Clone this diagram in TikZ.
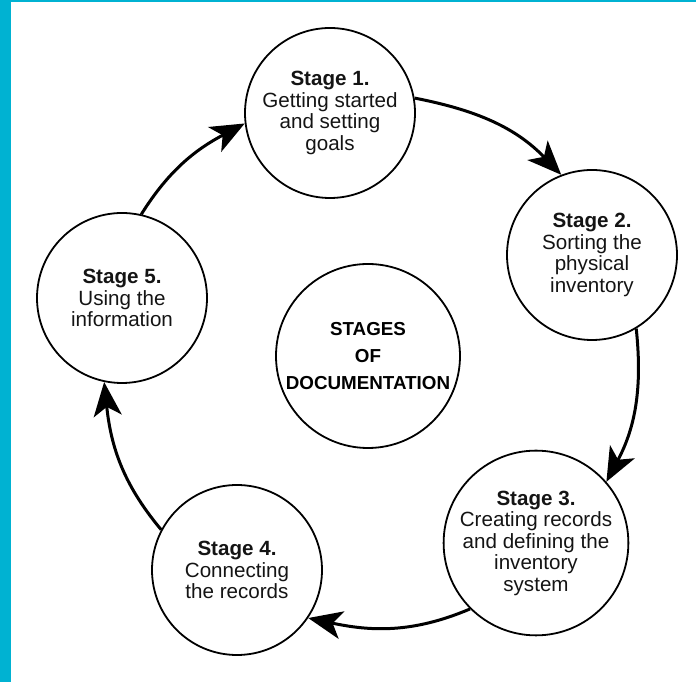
\documentclass[tikz,border=0pt]{standalone}
\usepackage{fontspec}
\setmainfont{Liberation Sans}
\usetikzlibrary{arrows.meta}
\definecolor{framecyan}{RGB}{0,178,210}
\definecolor{inkdark}{RGB}{20,20,20}
\begin{document}
\begin{tikzpicture}[x=1pt,y=1pt,
  stagebox/.style={circle, draw=black, line width=1.8pt, minimum size=170pt,
    inner sep=0pt, align=center, text=inkdark,
    font=\fontsize{20.6}{21.5}\selectfont},
  centerbox/.style={circle, draw=black, line width=1.8pt, minimum size=184pt,
    inner sep=0pt, align=center, text=black,
    font=\fontsize{18.8}{27}\selectfont\bfseries},
  flow/.style={line width=3pt, -{Stealth[length=34pt,width=28pt,inset=9pt]}}]
\useasboundingbox (0,0) rectangle (696,682);
\fill[framecyan] (0,0) rectangle (10.5,682);
\fill[framecyan] (0,680.2) rectangle (696,682);

\node[stagebox] (s1) at (330,569) {\textbf{Stage 1.}\\Getting started\\and setting\\goals};
\node[stagebox] (s2) at (592,427) {\textbf{Stage 2.}\\Sorting the\\physical\\inventory};
\node[stagebox] (s3) at (536,139) {\textbf{Stage 3.}\\Creating records\\and defining the\\inventory\\system};
\node[stagebox] (s4) at (237,112) {\textbf{Stage 4.}\\Connecting\\the records};
\node[stagebox] (s5) at (122,384) {\textbf{Stage 5.}\\Using the\\information};
\node[centerbox] (c) at (368,326) {STAGES\\OF\\DOCUMENTATION};

\draw[flow] (s1.10) to[out=-11,in=134] (s2.111);
\draw[flow] (s2.-59) to[out=-84,in=62] (s3.41);
\draw[flow] (s3.225) to[out=-157,in=-12] (s4.-34);
\draw[flow] (s4.152) to[out=130,in=-84] (s5.-102);
\draw[flow] (s5.77) to[out=58,in=208] (s1.187);
\end{tikzpicture}
\end{document}
